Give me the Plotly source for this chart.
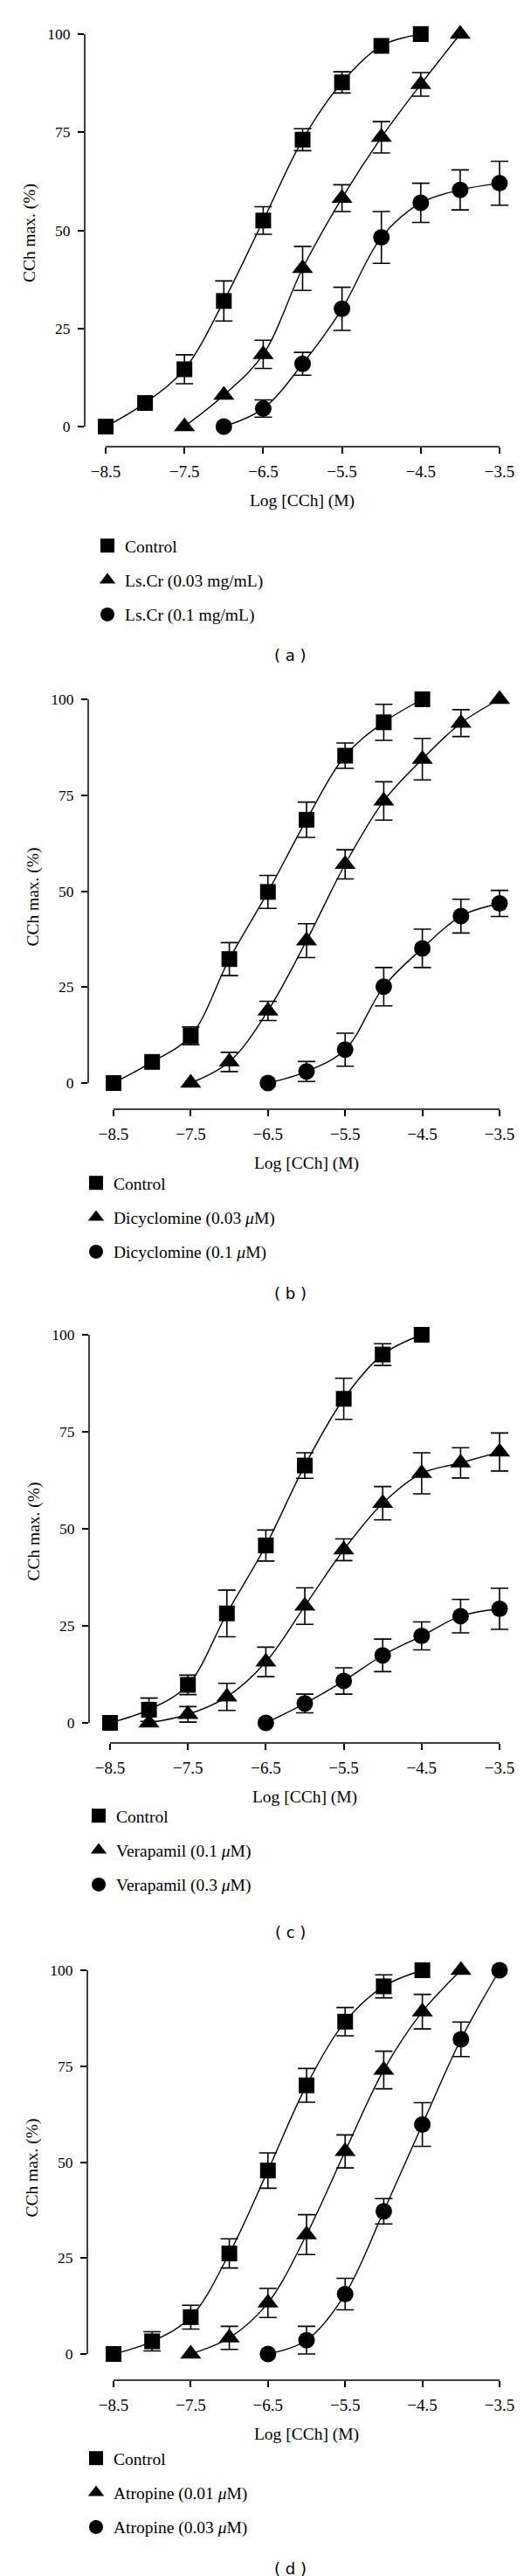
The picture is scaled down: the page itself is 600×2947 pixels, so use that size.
import numpy as np
import plotly.graph_objects as go

W, H = 600, 2947
SERIF = "Liberation Serif"
SANS = "DejaVu Sans"

# ---------------- data ----------------
LOG_CCH = [-8.5, -8.0, -7.5, -7.0, -6.5, -6.0, -5.5, -5.0, -4.5, -4.0, -3.5]
X_TICKS = [-8.5, -7.5, -6.5, -5.5, -4.5, -3.5]
X_TICK_TEXT = ["−8.5", "−7.5", "−6.5", "−5.5", "−4.5", "−3.5"]
Y_TICKS = [0, 25, 50, 75, 100]
X_TITLE = "Log [CCh] (M)"
Y_TITLE = "CCh max. (%)"
PANEL_LABELS = ["( a )", "( b )", "( c )", "( d )"]

# (a) Ls.Cr
A_NAMES = ["Control", "Ls.Cr (0.03 mg/mL)", "Ls.Cr (0.1 mg/mL)"]
A_CTRL_X = LOG_CCH[0:9]
A_CTRL_Y = [0, 6, 14.6, 32, 52.5, 73.1, 87.7, 97, 100]
A_CTRL_E = [None, None, 3.7, 5.1, 3.5, 2.8, 2.7, None, None]
A_LOW_X = LOG_CCH[2:10]
A_LOW_Y = [0, 8, 18.4, 40.3, 58.2, 73.7, 87.2, 100]
A_LOW_E = [None, None, 3.6, 5.6, 3.4, 4.0, 3.0, None]
A_HIGH_X = LOG_CCH[3:11]
A_HIGH_Y = [0, 4.6, 16, 30, 48.2, 57, 60.3, 62]
A_HIGH_E = [None, 2.2, 2.9, 5.5, 6.6, 5.0, 5.1, 5.6]

# (b) Dicyclomine
B_NAMES = ["Control", "Dicyclomine (0.03 <i>μ</i>M)", "Dicyclomine (0.1 <i>μ</i>M)"]
B_CTRL_X = LOG_CCH[0:9]
B_CTRL_Y = [0, 5.5, 12.3, 32.3, 49.8, 68.6, 85.3, 94, 100]
B_CTRL_E = [None, None, 2.3, 4.3, 4.3, 4.6, 3.3, 4.7, None]
B_LOW_X = LOG_CCH[2:11]
B_LOW_Y = [0, 5.5, 18.8, 37.1, 57, 73.5, 84.4, 93.8, 100]
B_LOW_E = [None, 2.5, 2.5, 4.4, 3.8, 5.0, 5.4, 3.5, None]
B_HIGH_X = LOG_CCH[4:11]
B_HIGH_Y = [0, 3, 8.7, 25.1, 35.1, 43.5, 46.8]
B_HIGH_E = [None, 2.6, 4.3, 5.0, 5.0, 4.4, 3.4]

# (c) Verapamil
C_NAMES = ["Control", "Verapamil (0.1 <i>μ</i>M)", "Verapamil (0.3 <i>μ</i>M)"]
C_CTRL_X = LOG_CCH[0:9]
C_CTRL_Y = [0, 3.4, 9.8, 28.2, 45.7, 66.3, 83.5, 94.9, 100]
C_CTRL_E = [None, 3.0, 2.5, 6.0, 4.0, 3.3, 5.3, 2.8, None]
C_LOW_X = LOG_CCH[1:11]
C_LOW_Y = [0, 2.2, 6.7, 15.7, 30.1, 44.6, 56.6, 64.3, 67, 69.8]
C_LOW_E = [None, 2.0, 3.5, 3.8, 4.7, 2.8, 4.3, 5.3, 3.9, 4.9]
C_HIGH_X = LOG_CCH[4:11]
C_HIGH_Y = [0, 5, 10.8, 17.4, 22.4, 27.5, 29.4]
C_HIGH_E = [None, 2.4, 3.4, 4.2, 3.6, 4.3, 5.3]

# (d) Atropine
D_NAMES = ["Control", "Atropine (0.01 <i>μ</i>M)", "Atropine (0.03 <i>μ</i>M)"]
D_CTRL_X = LOG_CCH[0:9]
D_CTRL_Y = [0, 3.3, 9.6, 26.2, 47.8, 70, 86.6, 95.8, 100]
D_CTRL_E = [None, 2.5, 3.1, 3.8, 4.6, 4.4, 3.7, 3.0, None]
D_LOW_X = LOG_CCH[2:10]
D_LOW_Y = [0, 4.2, 13.3, 31.1, 52.8, 74, 89.2, 100]
D_LOW_E = [None, 3.0, 3.8, 5.2, 4.3, 4.9, 4.5, None]
D_HIGH_X = LOG_CCH[4:11]
D_HIGH_Y = [0, 3.6, 15.6, 37.2, 59.8, 82, 100]
D_HIGH_E = [None, 3.6, 4.1, 3.3, 5.7, 4.5, None]

PANELS = [
    (A_NAMES, [(A_CTRL_X, A_CTRL_Y, A_CTRL_E), (A_LOW_X, A_LOW_Y, A_LOW_E), (A_HIGH_X, A_HIGH_Y, A_HIGH_E)]),
    (B_NAMES, [(B_CTRL_X, B_CTRL_Y, B_CTRL_E), (B_LOW_X, B_LOW_Y, B_LOW_E), (B_HIGH_X, B_HIGH_Y, B_HIGH_E)]),
    (C_NAMES, [(C_CTRL_X, C_CTRL_Y, C_CTRL_E), (C_LOW_X, C_LOW_Y, C_LOW_E), (C_HIGH_X, C_HIGH_Y, C_HIGH_E)]),
    (D_NAMES, [(D_CTRL_X, D_CTRL_Y, D_CTRL_E), (D_LOW_X, D_LOW_Y, D_LOW_E), (D_HIGH_X, D_HIGH_Y, D_HIGH_E)]),
]

# ---------------- geometry (pixels) ----------------
# left: y-axis line x; x85/x35: pixel of -8.5/-3.5; right: plot right edge
# top: plot top; y100/y0: pixel of 100/0; axis: x-axis line y
GEOM = [
    dict(left=89, x85=113, x35=564, right=587, top=14, y100=31, y0=480, axis=503,
         leg_x=95, leg_top=597, label_y=742),
    dict(left=93, x85=122, x35=564, right=593, top=775, y100=792, y0=1231, axis=1261,
         leg_x=82, leg_top=1326, label_y=1472),
    dict(left=94, x85=118, x35=564, right=588, top=1502, y100=1519, y0=1963, axis=1986,
         leg_x=85, leg_top=2050, label_y=2202),
    dict(left=92, x85=122, x35=564, right=594, top=2229, y100=2246, y0=2685, axis=2715,
         leg_x=82, leg_top=2785, label_y=2930),
]

SYMBOLS = ["square", "triangle-up", "circle"]
SIZES = [18, 21, 19]

fig = go.Figure()
line_traces, marker_traces = [], []
layout = dict(
    width=W, height=H, margin=dict(l=0, r=0, t=0, b=0),
    paper_bgcolor="white", plot_bgcolor="white",
    font=dict(family=SERIF, color="black", size=18),
    shapes=[], annotations=[],
)

for i, ((names, series), g) in enumerate(zip(PANELS, GEOM)):
    n = "" if i == 0 else str(i + 1)
    xref, yref = "x" + n, "y" + n
    leg = "legend" + n
    for j, ((xs, ys, es), name) in enumerate(zip(series, names)):
        line_traces.append(go.Scatter(
            x=xs, y=ys, mode="lines", xaxis=xref, yaxis=yref,
            line=dict(shape="spline", smoothing=1.0, color="black", width=1.4),
            showlegend=False, hoverinfo="skip", cliponaxis=False))
        marker_traces.append(go.Scatter(
            x=xs, y=ys, mode="markers", xaxis=xref, yaxis=yref, name=name,
            marker=dict(symbol=SYMBOLS[j], size=SIZES[j], color="black"),
            error_y=dict(type="data", array=np.array(es, dtype=float), visible=True,
                         color="black", thickness=1.6, width=10),
            legend=leg, legendgroup=f"p{i}s{j}", cliponaxis=False))

    xu = (g["x35"] - g["x85"]) / 5.0
    xr = [-8.5 - (g["x85"] - g["left"]) / xu, -3.5 + (g["right"] - g["x35"]) / xu]
    yu = (g["y0"] - g["y100"]) / 100.0
    yr = [-(g["axis"] - g["y0"]) / yu, 100 + (g["y100"] - g["top"]) / yu]

    layout["xaxis" + n] = dict(
        domain=[g["left"] / W, g["right"] / W], range=xr, anchor=yref,
        tickmode="array", tickvals=X_TICKS, ticktext=X_TICK_TEXT,
        ticks="outside", ticklen=7, tickwidth=1.5, tickcolor="black",
        ticklabelstandoff=4,
        showline=False, showgrid=False, zeroline=False, fixedrange=True,
        tickfont=dict(family=SERIF, size=19, color="black"),
        title=dict(text=X_TITLE, font=dict(family=SERIF, size=19.5, color="black"), standoff=16),
    )
    layout["yaxis" + n] = dict(
        domain=[1 - g["axis"] / H, 1 - g["top"] / H], range=yr, anchor=xref,
        tickmode="array", tickvals=Y_TICKS,
        ticks="outside", ticklen=7, tickwidth=1.5, tickcolor="black",
        ticklabelstandoff=5,
        showline=False, showgrid=False, zeroline=False, fixedrange=True,
        tickfont=dict(family=SERIF, size=17.5, color="black"),
        title=dict(text=Y_TITLE, font=dict(family=SERIF, size=19.5, color="black"), standoff=8),
    )
    # offset-style axis lines
    layout["shapes"].append(dict(type="line", xref=xref, yref=yref + " domain",
                                 x0=X_TICKS[0], x1=X_TICKS[-1], y0=0, y1=0,
                                 line=dict(color="black", width=1.5)))
    layout["shapes"].append(dict(type="line", xref=xref + " domain", yref=yref,
                                 x0=0, x1=0, y0=Y_TICKS[0], y1=Y_TICKS[-1],
                                 line=dict(color="black", width=1.5)))
    layout[leg] = dict(
        x=g["leg_x"] / W, y=1 - g["leg_top"] / H, xanchor="left", yanchor="top",
        font=dict(family=SERIF, size=19.5, color="black"),
        bgcolor="rgba(0,0,0,0)", borderwidth=0, tracegroupgap=11,
        traceorder="grouped", itemsizing="trace",
    )
    layout["annotations"].append(dict(
        text=PANEL_LABELS[i], xref="paper", yref="paper", x=324 / W, y=1 - g["label_y"] / H,
        xanchor="center", yanchor="middle", showarrow=False,
        font=dict(family=SANS, size=18, color="black")))

fig.add_traces(line_traces + marker_traces)
fig.update_layout(**layout)
fig.write_html("out.html")
